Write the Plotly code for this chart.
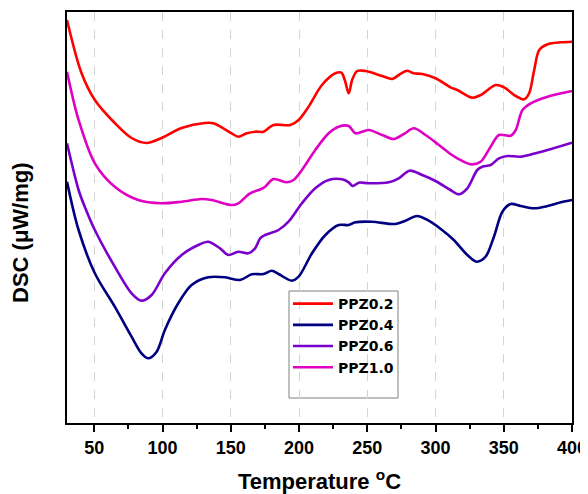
import plotly.graph_objects as go

# Temperature (°C) and DSC signal (arbitrary offset units)
t_02 = [30, 40.6, 50.4, 65, 77.3, 88.3, 99.3, 114, 131, 137.2, 143.3, 150.6, 155.5, 161.7, 168,
        174, 181.3, 193.6, 199.7, 207, 216.8, 226.6, 231, 233.5, 236.4, 238.9, 242.6, 248.7, 260.9,
        268.3, 273.1, 279.2, 284.1, 290.3, 300, 311, 316, 327, 333.1, 344.1, 350.2, 358.8, 364.9,
        368.6, 372.3, 376, 382.1, 391.9, 400]
y_02 = [403, 350, 323, 300, 285, 280, 285, 295, 300, 299.7, 295.7, 289.7, 286.3, 289.7, 291.3,
        291.3, 298, 298, 303, 316.3, 338, 349.7, 350.3, 343, 329.7, 343, 352, 352, 347,
        344, 348, 352.3, 349.7, 349, 344.7, 335.7, 333, 325.3, 328, 338, 335.7, 327, 323.7,
        329.7, 353, 373, 378.7, 380.7, 381.3]

t_04 = [30, 38.5, 50.4, 65, 77.3, 84.6, 89.5, 95.7, 101.7, 111.5, 121.3, 133.5, 145.8, 156.8, 165.4,
        174, 180.1, 185, 194.8, 199.7, 209.5, 219.3, 229, 236.4, 241.3, 253.5, 270.6, 277.9, 286.5,
        295, 304.8, 313.4, 323.3, 330.1, 336.7, 342.8, 349, 355.1, 362.4, 372.2, 382.1, 391.9, 400]
y_04 = [241.3, 193, 149.7, 116.3, 86.3, 69.7, 64.7, 71.3, 93, 119.7, 138, 145.7, 145.7, 143, 148.7,
        149, 152.3, 149, 142.3, 146.3, 169.7, 188, 198, 198, 200.7, 201.3, 199, 202.3, 207,
        202.3, 193, 183, 168, 161.3, 166.3, 186.3, 211.3, 219, 217, 214.7, 217, 220.7, 223]

t_06 = [30, 38.5, 43, 50.4, 65, 77.3, 84.6, 92, 101.7, 114, 126.2, 133.5, 142.1, 148.2, 155.5,
        162.9, 167.8, 171.5, 175.2, 185, 192.3, 202.1, 211.9, 221.7, 231.5, 236.4, 239.3, 243.8,
        251.1, 265.8, 273.1, 281, 290.3, 300, 311, 317, 323.3, 330.6, 334.3, 340.4, 346.5, 352.7,
        362.4, 374.7, 382.1, 400]
y_06 = [279.7, 233, 216.3, 193, 156.3, 129.7, 122.3, 128, 149.7, 168, 178, 181.3, 174.7, 168, 171.3,
        169.7, 174.7, 184.7, 188, 193, 201.3, 219.7, 234.7, 243, 243.7, 240.7, 237, 240.3,
        239.7, 240.7, 244.7, 252.3, 248, 242, 233, 228.7, 234.7, 253, 256.3, 258, 264.7, 267,
        266.3, 270.3, 273, 280.3]

t_10 = [30, 38.5, 50.4, 65, 82.2, 99.3, 114, 128.7, 136, 150.6, 155.5, 164.1, 171.5, 175.2, 181.3,
        191.1, 196, 202.1, 211.9, 221.7, 229, 236.4, 241.3, 251.1, 260.9, 269.4, 276.8, 284.1,
        292.7, 302.5, 311, 316, 325.7, 333.1, 340.4, 346.5, 355.1, 358.8, 363.7, 369.8, 382.1, 400]
y_10 = [351.3, 303, 259.7, 236.3, 223, 219.7, 221.3, 224, 223, 218, 219.7, 229.7, 233.5, 236.3, 244,
        240.7, 243, 253, 273, 289.7, 296.3, 297, 289.7, 293, 288, 284, 289, 294.7,
        288, 278, 269, 264.7, 258.7, 261.3, 276.3, 288, 287.3, 293, 313, 319.7, 326.3, 332]

series_names = ["PPZ0.2", "PPZ0.4", "PPZ0.6", "PPZ1.0"]
series_t = [t_02, t_04, t_06, t_10]
series_y = [y_02, y_04, y_06, y_10]
colors = ["#ff0000", "#000080", "#7a00cc", "#e000c4"]

x_ticks = [50, 100, 150, 200, 250, 300, 350, 400]

fig = go.Figure()
for name, tx, ty, c in zip(series_names, series_t, series_y, colors):
    fig.add_trace(go.Scatter(x=tx, y=ty, mode="lines", name=name,
                             line=dict(color=c, width=2.6, shape="spline", smoothing=0.9)))

font_family = "Liberation Sans, Arial, sans-serif"
# page body has an 8px margin, so the figure is 8px smaller and margins compensate
fig.update_layout(
    width=580, height=486,
    margin=dict(l=59, r=16, t=4, b=71, autoexpand=False),
    paper_bgcolor="white", plot_bgcolor="white",
    showlegend=True,
    legend=dict(x=0.4376, y=0.3284, xanchor="left", yanchor="top",
                bgcolor="rgba(0,0,0,0)", borderwidth=0,
                font=dict(family="DejaVu Sans, sans-serif", size=14, color="black", weight="bold"),
                itemwidth=40, tracegroupgap=0),
    shapes=[dict(type="rect", xref="paper", yref="paper",
                 x0=(289 - 67) / 505, x1=(398 - 67) / 505,
                 y0=(423 - 398) / 411, y1=(423 - 291) / 411,
                 line=dict(color="#808080", width=1), fillcolor="white", layer="below")],
    annotations=[dict(text="DSC (\u03bcW/mg)", textangle=-90, showarrow=False,
                      xref="paper", yref="paper", x=(20 - 67) / 505, y=(423 - 233) / 411,
                      xanchor="center", yanchor="middle",
                      font=dict(family=font_family, size=22, color="black", weight="bold"))],
)
fig.update_xaxes(
    range=[30, 400], tickmode="array", tickvals=x_ticks, ticktext=[str(v) for v in x_ticks],
    ticks="outside", ticklen=7, tickwidth=1.5, tickcolor="black",
    minor=dict(ticks="outside", ticklen=4, tickwidth=1.5, tickcolor="black",
               tickvals=[75, 125, 175, 225, 275, 325, 375], showgrid=False),
    showgrid=True, gridcolor="#d4d4d4", griddash="dash", gridwidth=1,
    showline=True, linecolor="black", linewidth=2, mirror=True,
    zeroline=False, automargin=False,
    tickfont=dict(family=font_family, size=18, color="black", weight="bold"),
    title=dict(text="Temperature <sup>o</sup>C", standoff=17,
               font=dict(family=font_family, size=22, color="black", weight="bold")),
)
fig.update_yaxes(
    range=[0, 411], showticklabels=False, ticks="", showgrid=False, zeroline=False,
    showline=True, linecolor="black", linewidth=2, mirror=True, automargin=False,
)

fig.write_html("out.html")
